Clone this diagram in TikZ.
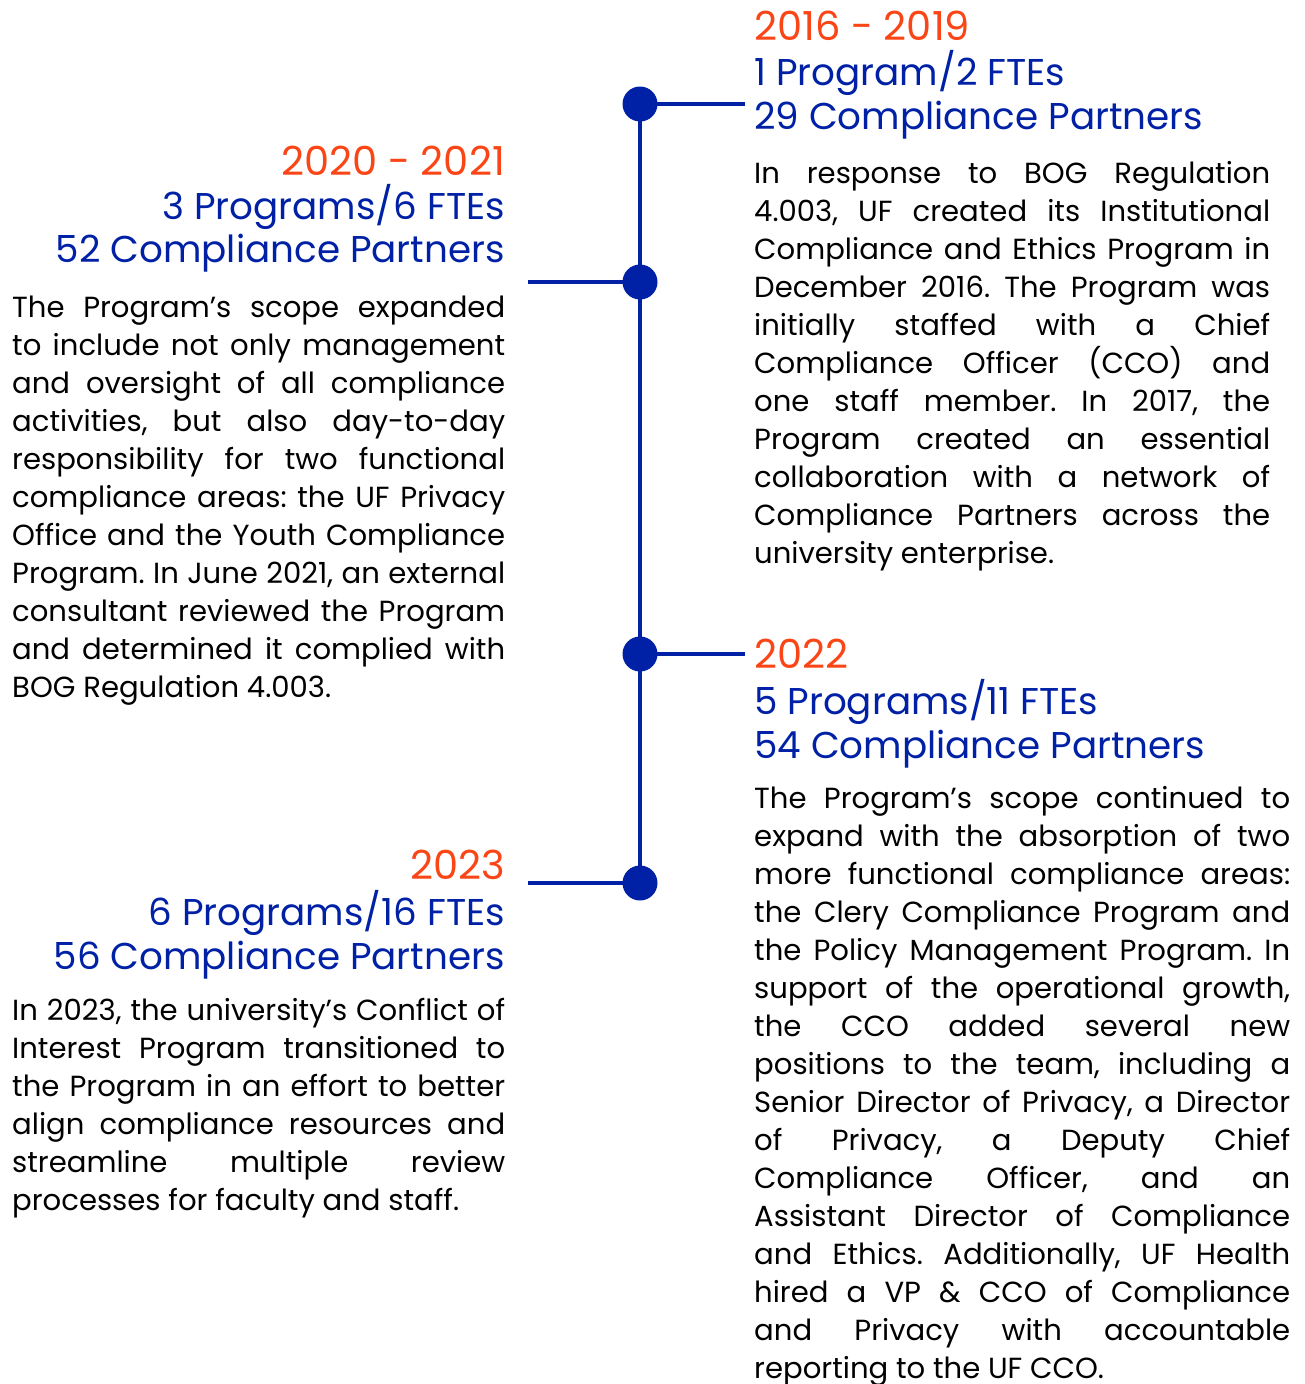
\documentclass[tikz,border=0pt]{standalone}
\usepackage{fontspec}
\setmainfont{Poppins}
\definecolor{ufblue}{HTML}{0021A5}
\definecolor{uforange}{HTML}{FA4616}
\tikzset{
  bodytext/.style={inner sep=0pt, font=\fontsize{29.1}{38}\selectfont\frenchspacing, text=black},
  headyear/.style={inner sep=0pt, font=\fontsize{40}{45}\selectfont, text=uforange},
  headblue/.style={inner sep=0pt, font=\fontsize{37.3}{45}\selectfont, text=ufblue},
  tline/.style={draw=ufblue, line width=3.3pt},
  tdot/.style={circle, fill=ufblue, minimum size=35pt, inner sep=0pt},
}
% name, x, first baseline, width, stretched lines, last index, last line
\newcommand\tlblock[7]{%
  \foreach \t [count=\i from 0] in {#5}
    \node[bodytext, anchor=base west] (#1-\i) at (#2, #3+38*\i) {\makebox[#4pt][s]{\t}};
  \node[bodytext, anchor=base west] (#1-#6) at (#2, #3+38*#6) {#7};
}
\begin{document}
\begin{tikzpicture}[x=1pt,y=-1pt]
\useasboundingbox (0,0) rectangle (1304,1384);
% timeline
\coordinate (p1) at (640,104);
\coordinate (p2) at (640,282);
\coordinate (p3) at (640,654);
\coordinate (p4) at (640,883);
\coordinate (e1) at (745,104);
\coordinate (e2) at (528,282);
\coordinate (e3) at (745,654);
\coordinate (e4) at (528,883);
\draw[tline] (p1) -- (p4);
\draw[tline] (p1) -- (e1);
\draw[tline] (p2) -- (e2);
\draw[tline] (p3) -- (e3);
\draw[tline] (p4) -- (e4);
\node[tdot] (d1) at (p1) {};
\node[tdot] (d2) at (p2) {};
\node[tdot] (d3) at (p3) {};
\node[tdot] (d4) at (p4) {};

% 2016 - 2019
\node[headyear, anchor=base west] (h1a) at (754,40) {2016 - 2019};
\node[headblue, anchor=base west] (h1b) at (754,85) {1 Program/2 FTEs};
\node[headblue, anchor=base west] (h1c) at (754,129) {29 Compliance Partners};
\tlblock{r1}{754}{183.3}{516}{
 {In response to BOG Regulation},
 {4.003, UF created its Institutional},
 {Compliance and Ethics Program in},
 {December 2016. The Program was},
 {initially staffed with a Chief},
 {Compliance Officer (CCO) and},
 {one staff member. In 2017, the},
 {Program created an essential},
 {collaboration with a network of},
 {Compliance Partners across the}}{10}{university enterprise.}

% 2020 - 2021
\node[headyear, anchor=base east] (h2a) at (505,175) {2020 - 2021};
\node[headblue, anchor=base east] (h2b) at (505,219.5) {3 Programs/6 FTEs};
\node[headblue, anchor=base east] (h2c) at (505,262) {52 Compliance Partners};
\tlblock{l1}{12}{317}{493}{
 {The Program’s scope expanded},
 {to include not only management},
 {and oversight of all compliance},
 {activities, but also day-to-day},
 {responsibility for two functional},
 {compliance areas: the UF Privacy},
 {Office and the Youth Compliance},
 {Program. In June 2021, an external},
 {consultant reviewed the Program},
 {and determined it complied with}}{10}{BOG Regulation 4.003.}

% 2022
\node[headyear, anchor=base west] (h3a) at (754,668) {2022};
\node[headblue, anchor=base west] (h3b) at (754,714) {5 Programs/11 FTEs};
\node[headblue, anchor=base west] (h3c) at (754,758) {54 Compliance Partners};
\tlblock{r2}{754}{808}{536}{
 {The Program’s scope continued to},
 {expand with the absorption of two},
 {more functional compliance areas:},
 {the Clery Compliance Program and},
 {the Policy Management Program. In},
 {support of the operational growth,},
 {the CCO added several new},
 {positions to the team, including a},
 {Senior Director of Privacy, a Director},
 {of Privacy, a Deputy Chief},
 {Compliance Officer, and an},
 {Assistant Director of Compliance},
 {and Ethics. Additionally, UF Health},
 {hired a VP \& CCO of Compliance},
 {and Privacy with accountable}}{15}{reporting to the UF CCO.}

% 2023
\node[headyear, anchor=base east] (h4a) at (505,879) {2023};
\node[headblue, anchor=base east] (h4b) at (505,925) {6 Programs/16 FTEs};
\node[headblue, anchor=base east] (h4c) at (505,969) {56 Compliance Partners};
\tlblock{l2}{12}{1020}{493}{
 {In 2023, the university’s Conflict of},
 {Interest Program transitioned to},
 {the Program in an effort to better},
 {align compliance resources and},
 {streamline multiple review}}{5}{processes for faculty and staff.}
\end{tikzpicture}
\end{document}
